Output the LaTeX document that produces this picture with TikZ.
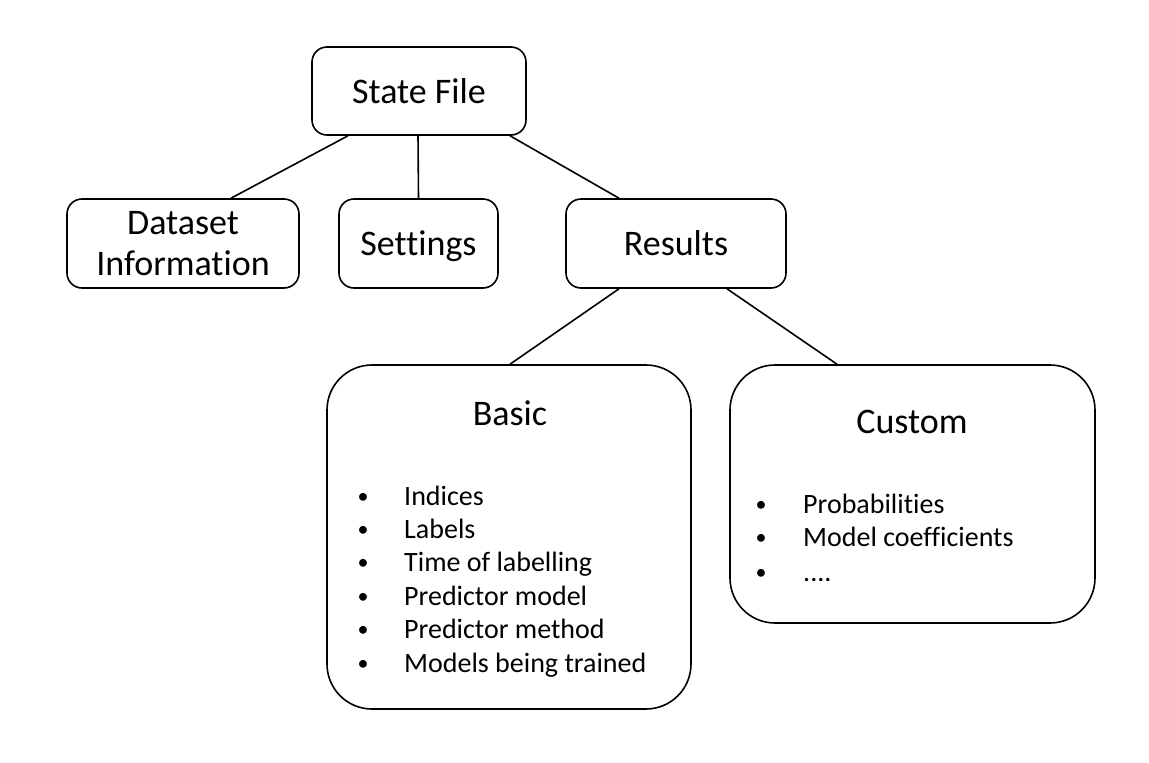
\documentclass[tikz,border=0pt]{standalone}
\usepackage{fontspec}
\setmainfont{Carlito}[Ligatures={NoCommon}]
\begin{document}
\begin{tikzpicture}[x=1pt,y=-1pt,
  box/.style={draw, line width=1.6pt, rounded corners=15pt, inner sep=0pt,
    font=\fontsize{36}{41}\selectfont},
  smallbox/.style={box, text height=24pt, text depth=0pt},
  bigbox/.style={draw, line width=1.6pt, rounded corners=45pt, inner sep=0pt},
  head/.style={anchor=base, inner sep=0pt, font=\fontsize{36}{41}\selectfont},
  item/.style={anchor=base west, inner sep=0pt, font=\fontsize{28}{33}\selectfont},
  dot/.style={anchor=base, inner sep=0pt, font=\fontsize{22}{33}\selectfont},
  conn/.style={line width=1.6pt}]
\useasboundingbox (0,0) rectangle (1149,763);
\node[smallbox, minimum width=214pt, minimum height=88pt] (state) at (419,91) {State File};
\node[box, align=center, minimum width=232pt, minimum height=89pt] (data) at (183,243.5) {\raisebox{-3pt}{Dataset}\\\raisebox{-3pt}{Information}};
\node[smallbox, minimum width=159pt, minimum height=89pt] (settings) at (418.5,243.5) {Settings};
\node[smallbox, minimum width=220pt, minimum height=89pt] (results) at (676,243.5) {Results};
\node[bigbox, minimum width=364pt, minimum height=344pt] (basic) at (509,537) {};
\node[bigbox, minimum width=365pt, minimum height=258pt] (custom) at (912.5,494) {};
\node[head] (basich) at (510,425) {Basic};
\node[head] (customh) at (912,433) {Custom};
\foreach \t [count=\i] in {Indices,Labels,Time of labelling,Predictor model,Predictor method,Models being trained}{
  \node[dot] (bb\i) at (363,{503+33.4*(\i-1)}) {•};
  \node[item] (bt\i) at (404,{505+33.4*(\i-1)}) {\t};
}
\node[dot] (cb1) at (761,511) {•};
\node[item] (ct1) at (803,513) {Probabilities};
\node[dot] (cb2) at (761,544.5) {•};
\node[item] (ct2) at (803,546.5) {Model coefficients};
\node[dot] (cb3) at (761,579) {•};
\node[item] (ct3) at (803,581) {....};
\draw[conn] ([xshift=-71pt]state.south) -- ([xshift=48pt]data.north);
\draw[conn] ([xshift=-1pt]state.south) -- (settings.north);
\draw[conn] ([xshift=91pt]state.south) -- ([xshift=-57pt]results.north);
\draw[conn] ([xshift=-57pt]results.south) -- ([xshift=1pt]basic.north);
\draw[conn] ([xshift=51pt]results.south) -- ([xshift=-75.5pt]custom.north);
\end{tikzpicture}
\end{document}
